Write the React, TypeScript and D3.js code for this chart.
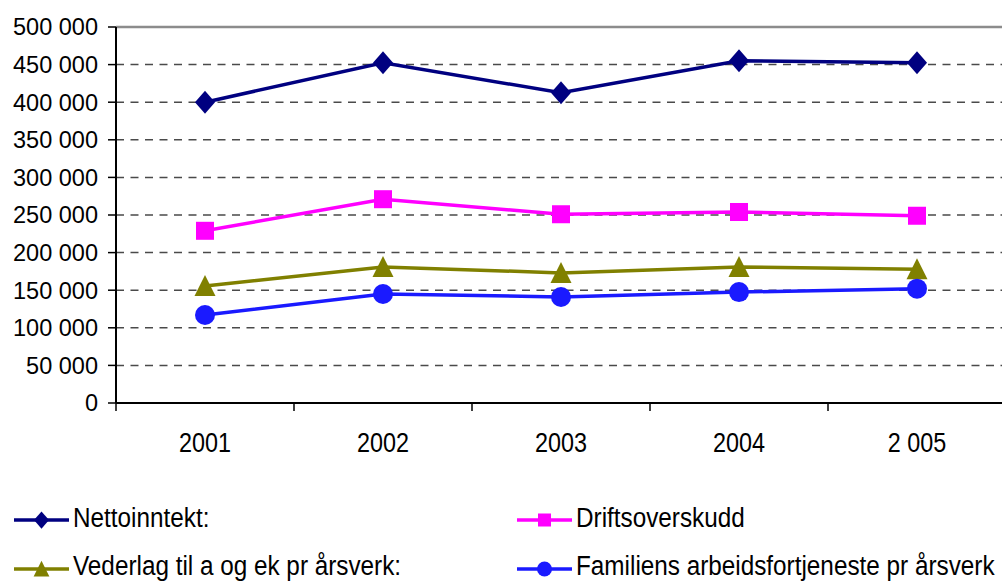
import React from "react";
import * as d3 from "d3";

const categories = ["2001", "2002", "2003", "2004", "2 005"];
const nettoinntekt = [400000, 452500, 412500, 455000, 452500];
const driftsoverskudd = [229000, 271000, 251000, 254000, 249000];
const vederlag = [155500, 181000, 173000, 181000, 178000];
const familiens = [117000, 145000, 141000, 147500, 152000];
const yTicks = [0, 50000, 100000, 150000, 200000, 250000, 300000, 350000, 400000, 450000, 500000];

const series = [
  { name: "Nettoinntekt:", values: nettoinntekt, color: "#000080", marker: "diamond" },
  { name: "Driftsoverskudd", values: driftsoverskudd, color: "#ff00ff", marker: "square" },
  { name: "Vederlag til a og ek pr årsverk:", values: vederlag, color: "#808000", marker: "triangle" },
  { name: "Familiens arbeidsfortjeneste pr årsverk", values: familiens, color: "#1a1aff", marker: "circle" },
];

const fmt = (v: number) => {
  if (v === 0) return "0";
  const s = String(v);
  return s.replace(/\B(?=(\d{3})+(?!\d))/g, " ");
};

function Marker({ type, x, y, size, color }: { type: string; x: number; y: number; size: number; color: string }) {
  const h = size / 2;
  if (type === "diamond") {
    return <path d={`M${x},${y - h * 1.15} L${x + h},${y} L${x},${y + h * 1.15} L${x - h},${y} Z`} fill={color} />;
  }
  if (type === "square") {
    return <rect x={x - h} y={y - h} width={size} height={size} fill={color} />;
  }
  if (type === "triangle") {
    return <path d={`M${x},${y - h * 1.1} L${x + h * 1.05},${y + h} L${x - h * 1.05},${y + h} Z`} fill={color} />;
  }
  return <circle cx={x} cy={y} r={h} fill={color} />;
}

export default function App() {
  const W = 1002, H = 581;
  const left = 116, right = 1006, top = 27, bottom = 403;
  const x = d3.scaleBand<string>().domain(categories).range([left, right]).padding(0);
  const bw = x.bandwidth();
  const cx = (c: string) => (x(c) as number) + bw / 2;
  const y = d3.scaleLinear().domain([0, 500000]).range([bottom, top]);
  const line = d3
    .line<number>()
    .x((_, i) => cx(categories[i]))
    .y((d) => y(d));
  const font = "'Liberation Sans', Arial, sans-serif";

  const legendPos = [
    { x: 14, y: 520, base: 527 },
    { x: 517, y: 520, base: 527 },
    { x: 14, y: 569, base: 575 },
    { x: 517, y: 569, base: 575 },
  ];

  return (
    <svg width={W} height={H} style={{ position: "absolute", left: 0, top: 0 }} fontFamily={font}>
      <rect x={0} y={0} width={W} height={H} fill="#fff" />
      {yTicks.filter((t) => t > 0 && t < 500000).map((t) => (
        <line key={t} x1={left} x2={W} y1={y(t)} y2={y(t)} stroke="#4a4a4a" strokeWidth={1.5} strokeDasharray="8,6.5" />
      ))}
      <line x1={left} x2={W} y1={y(500000)} y2={y(500000)} stroke="#8c8c8c" strokeWidth={2.5} />
      {/* y axis */}
      <line x1={left} x2={left} y1={top} y2={bottom} stroke="#000" strokeWidth={2} />
      {yTicks.map((t) => (
        <g key={t}>
          <line x1={left - 8} x2={left} y1={y(t)} y2={y(t)} stroke="#000" strokeWidth={1.5} />
          <text x={left - 18} y={y(t)} dy="0.36em" textAnchor="end" fontSize={23.5} fill="#000">
            {fmt(t)}
          </text>
        </g>
      ))}
      {/* x axis */}
      <line x1={left} x2={W} y1={bottom} y2={bottom} stroke="#000" strokeWidth={2} />
      {categories.map((c) => (
        <g key={c}>
          <line x1={x(c) as number} x2={x(c) as number} y1={bottom} y2={bottom + 8} stroke="#000" strokeWidth={1.5} />
          <text transform={`translate(${cx(c)},451.5) scale(1,1.17)`} textAnchor="middle" fontSize={23.4} fill="#000">
            {c}
          </text>
        </g>
      ))}
      {series.map((s) => (
        <g key={s.name}>
          <path d={line(s.values) as string} fill="none" stroke={s.color} strokeWidth={3.5} />
          {s.values.map((v, i) => (
            <Marker key={i} type={s.marker} x={cx(categories[i])} y={y(v)} size={s.marker === "square" ? 18 : 20} color={s.color} />
          ))}
        </g>
      ))}
      {series.map((s, i) => {
        const p = legendPos[i];
        return (
          <g key={s.name}>
            <line x1={p.x} x2={p.x + 55} y1={p.y} y2={p.y} stroke={s.color} strokeWidth={3.5} />
            <Marker type={s.marker} x={p.x + 27.5} y={p.y} size={s.marker === "square" ? 13 : 15} color={s.color} />
            <text transform={`translate(${p.x + 59},${p.base}) scale(1,1.17)`} fontSize={24.3} fill="#000">
              {s.name}
            </text>
          </g>
        );
      })}
    </svg>
  );
}
